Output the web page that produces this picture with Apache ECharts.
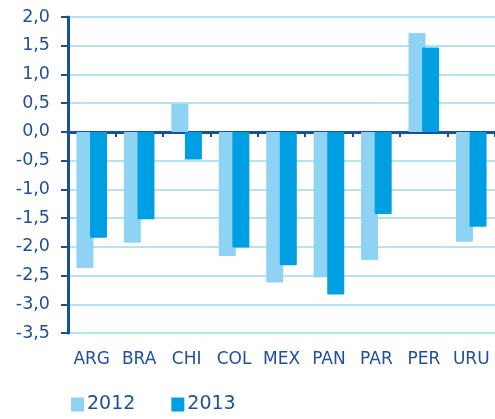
<!DOCTYPE html>
<html>
<head>
<meta charset="utf-8">
<script src="https://cdn.jsdelivr.net/npm/echarts@6/dist/echarts.min.js"></script>
<style>
  html, body { margin: 0; padding: 0; background: #fff; }
  #chart { width: 495px; height: 419px; }
</style>
</head>
<body>
<div id="chart"></div>
<script>
// data
var countries = ['ARG', 'BRA', 'CHI', 'COL', 'MEX', 'PAN', 'PAR', 'PER', 'URU']
var values2012 = [-2.37, -1.93, 0.49, -2.16, -2.62, -2.53, -2.23, 1.72, -1.91]
var values2013 = [-1.84, -1.52, -0.48, -2.01, -2.32, -2.83, -1.43, 1.47, -1.65]
var yearNames = ['2012', '2013']

var axisBlue = '#1b4f9e'
var textBlue = '#1f4f9c'
var fontName = 'DejaVu Sans'

var chart = echarts.init(document.getElementById('chart'))
var option = {
  animation: false,
  textStyle: { fontFamily: fontName },
  grid: { left: 68, top: 17, right: 0, bottom: 86 },
  legend: {
    left: 66,
    bottom: 0,
    itemWidth: 13,
    itemHeight: 14,
    itemGap: 36,
    icon: 'rect',
    textStyle: { color: textBlue, fontSize: 19, fontFamily: fontName, padding: [0, 0, 0, -2] },
    data: yearNames
  },
  xAxis: [
    {
      type: 'category',
      data: countries,
      axisLine: { onZero: true, lineStyle: { color: axisBlue, width: 3 } },
      axisTick: { show: true, length: 5, lineStyle: { color: axisBlue, width: 2 } },
      axisLabel: { show: false }
    },
    {
      type: 'category',
      data: countries,
      position: 'bottom',
      axisLine: { show: false, onZero: false },
      axisTick: { show: false },
      axisLabel: { color: textBlue, fontSize: 17, margin: 18, interval: 0, hideOverlap: false }
    }
  ],
  yAxis: {
    type: 'value',
    min: -3.5,
    max: 2,
    interval: 0.5,
    axisLine: { show: true, lineStyle: { color: axisBlue, width: 3 } },
    axisTick: { show: true, length: 7, lineStyle: { color: axisBlue, width: 2 } },
    splitLine: { lineStyle: { color: '#b5e3f6', width: 2 } },
    axisLabel: {
      color: textBlue,
      fontSize: 17.5,
      margin: 18,
      formatter: function (v) { return v.toFixed(1).replace('.', ',') }
    }
  },
  series: [
    {
      name: yearNames[0],
      type: 'bar',
      barWidth: 17,
      barGap: '-20%',
      itemStyle: { color: '#8ed3f3', borderRadius: 1 },
      data: values2012
    },
    {
      name: yearNames[1],
      type: 'bar',
      barWidth: 17,
      itemStyle: { color: '#009fe3', borderRadius: 1 },
      data: values2013
    }
  ]
}
chart.setOption(option)
</script>
</body>
</html>
